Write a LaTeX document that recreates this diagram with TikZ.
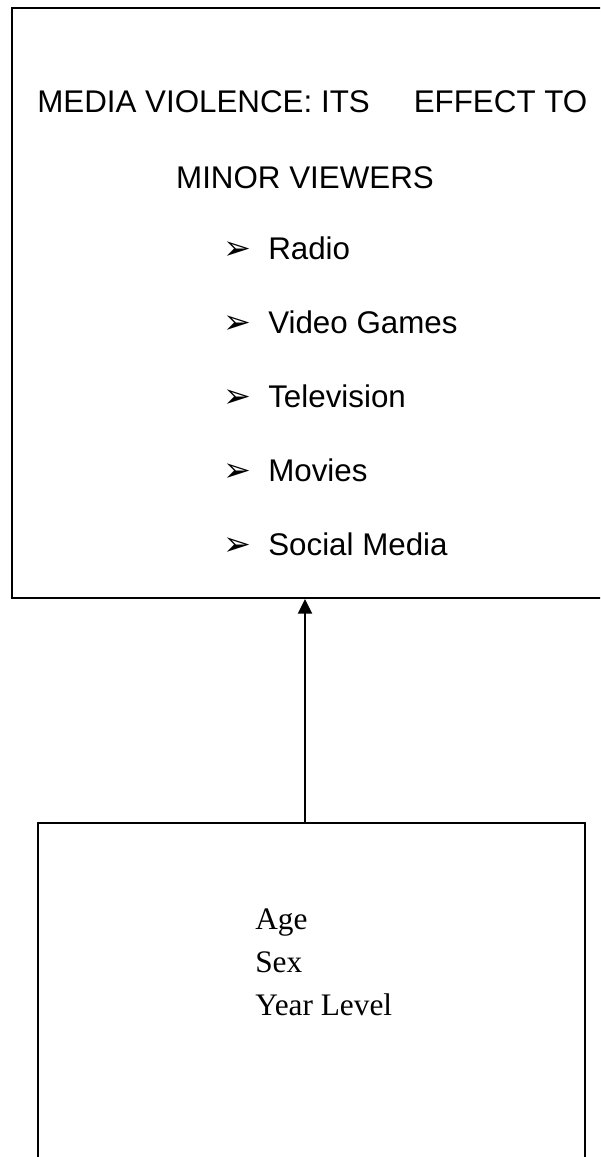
\documentclass[tikz,border=0pt]{standalone}
\usepackage{fontspec}
\setmainfont{Liberation Serif}
\newfontfamily\arialfont{Liberation Sans}
\newfontfamily\dingfont{DejaVu Sans}
\usetikzlibrary{arrows.meta}
\tikzset{
  framebox/.style={draw,line width=1.5pt,rectangle,inner sep=0pt},
  headtext/.style={inner sep=0pt,font=\arialfont\fontsize{23.5}{28}\selectfont},
  itemtext/.style={inner sep=0pt,font=\arialfont\fontsize{23.5}{28}\selectfont,anchor=base west},
  bullettext/.style={inner sep=0pt,font=\dingfont\fontsize{25}{28}\selectfont,anchor=base west},
  factortext/.style={inner sep=0pt,font=\fontsize{23.5}{28}\selectfont,anchor=base west}
}
\begin{document}
\begin{tikzpicture}[x=0.75pt,y=-0.75pt,>={Triangle[width=10.5pt,length=11pt]}]
            \useasboundingbox (0,0) rectangle (600,1157);
            \clip (0,0) rectangle (600,1157);
            \node[framebox,minimum width=452pt,minimum height=442.5pt] (media) at (313.75,303) {};
            \node[framebox,minimum width=410.25pt,minimum height=264pt] (factors) at (311.5,999) {};
            \node[headtext,anchor=base west] (title) at (37,112) {MEDIA VIOLENCE: ITS\hspace{33pt}EFFECT TO};
            \node[headtext,anchor=base] (subtitle) at (305,188) {MINOR VIEWERS};
            \foreach \name [count=\i] in {Radio,Video Games,Television,Movies,Social Media}{
                \node[bullettext] (bullet\i) at (223,{185+74*\i}) {➢};
                \node[itemtext] (item\i) at (268,{185+74*\i}) {\name};
            }
            \foreach \name [count=\i] in {Age,Sex,Year Level}{
                \node[factortext] (factor\i) at (255,{886+43*\i}) {\name};
            }
            \draw[->,line width=1.5pt] (subtitle.base |- factors.north) -- (subtitle.base |- media.south);
        \end{tikzpicture}
\end{document}
